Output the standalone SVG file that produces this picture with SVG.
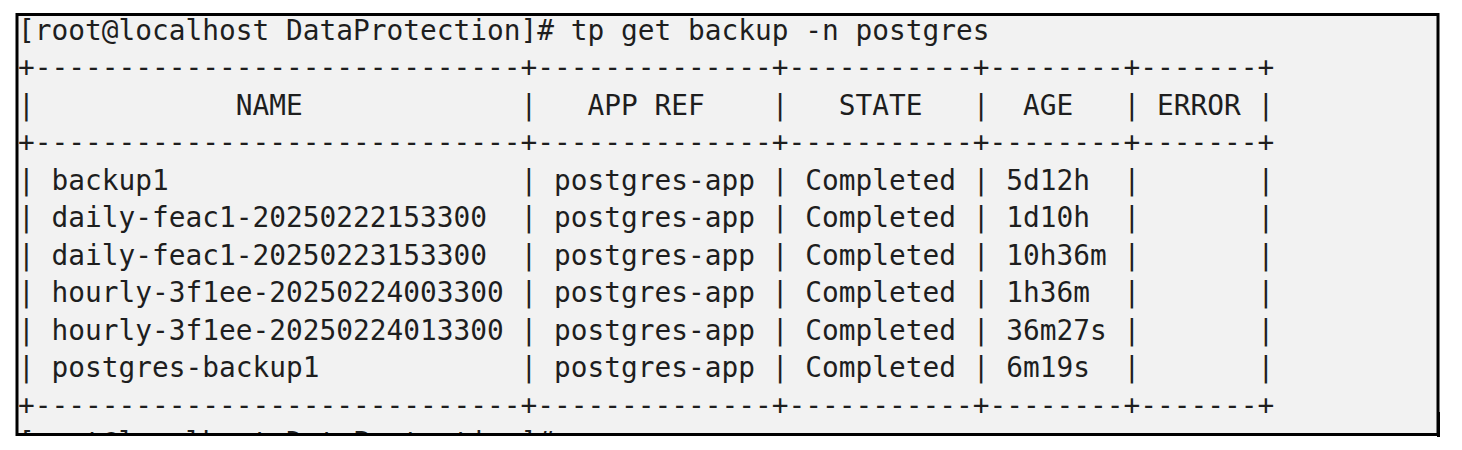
<svg xmlns="http://www.w3.org/2000/svg" width="1462" height="450" viewBox="0 0 1462 450">
  <style>
    .t { font-family: "DejaVu Sans Mono", "Liberation Mono", monospace; font-size: 28px; fill: #1e1e1e; white-space: pre; }
  </style>
  <defs>
    <clipPath id="inner">
      <rect x="17" y="14.5" width="1421" height="420"/>
    </clipPath>
  </defs>
  <rect x="0" y="0" width="1462" height="450" fill="#ffffff"/>
  <rect id="terminal-bg" x="17" y="14.5" width="1421" height="420" fill="#f2f2f2"/>
  <g id="terminal-text" clip-path="url(#inner)">
    <g id="prompt"><text class="t" x="18" y="39.6" textLength="971.5" lengthAdjust="spacingAndGlyphs" xml:space="preserve">[root@localhost DataProtection]# tp get backup -n postgres</text></g>
    <g id="border-top"><text class="t" x="18" y="77" textLength="1256.25" lengthAdjust="spacingAndGlyphs" xml:space="preserve">+-----------------------------+--------------+-----------+--------+-------+</text></g>
    <g id="header"><text class="t" x="18" y="114.6" textLength="1256.25" lengthAdjust="spacingAndGlyphs" xml:space="preserve">|            NAME             |   APP REF    |   STATE   |  AGE   | ERROR |</text></g>
    <g id="border-mid"><text class="t" x="18" y="152" textLength="1256.25" lengthAdjust="spacingAndGlyphs" xml:space="preserve">+-----------------------------+--------------+-----------+--------+-------+</text></g>
    <g id="row-backup1"><text class="t" x="18" y="189.6" textLength="1256.25" lengthAdjust="spacingAndGlyphs" xml:space="preserve">| backup1                     | postgres-app | Completed | 5d12h  |       |</text></g>
    <g id="row-daily-1"><text class="t" x="18" y="227.1" textLength="1256.25" lengthAdjust="spacingAndGlyphs" xml:space="preserve">| daily-feac1-20250222153300  | postgres-app | Completed | 1d10h  |       |</text></g>
    <g id="row-daily-2"><text class="t" x="18" y="264.6" textLength="1256.25" lengthAdjust="spacingAndGlyphs" xml:space="preserve">| daily-feac1-20250223153300  | postgres-app | Completed | 10h36m |       |</text></g>
    <g id="row-hourly-1"><text class="t" x="18" y="302.1" textLength="1256.25" lengthAdjust="spacingAndGlyphs" xml:space="preserve">| hourly-3f1ee-20250224003300 | postgres-app | Completed | 1h36m  |       |</text></g>
    <g id="row-hourly-2"><text class="t" x="18" y="339.6" textLength="1256.25" lengthAdjust="spacingAndGlyphs" xml:space="preserve">| hourly-3f1ee-20250224013300 | postgres-app | Completed | 36m27s |       |</text></g>
    <g id="row-postgres-backup1"><text class="t" x="18" y="377.1" textLength="1256.25" lengthAdjust="spacingAndGlyphs" xml:space="preserve">| postgres-backup1            | postgres-app | Completed | 6m19s  |       |</text></g>
    <g id="border-bottom"><text class="t" x="18" y="414.6" textLength="1256.25" lengthAdjust="spacingAndGlyphs" xml:space="preserve">+-----------------------------+--------------+-----------+--------+-------+</text></g>
    <g id="prompt-next"><text class="t" x="18" y="451.65" textLength="536" lengthAdjust="spacingAndGlyphs" xml:space="preserve">[root@localhost DataProtection]#</text></g>
  </g>
  <g id="frame">
    <rect x="17" y="14.5" width="1421" height="420" fill="none" stroke="#000000" stroke-width="3"/>
    <rect x="1437" y="412" width="3" height="25" fill="#000000"/>
  </g>
</svg>
